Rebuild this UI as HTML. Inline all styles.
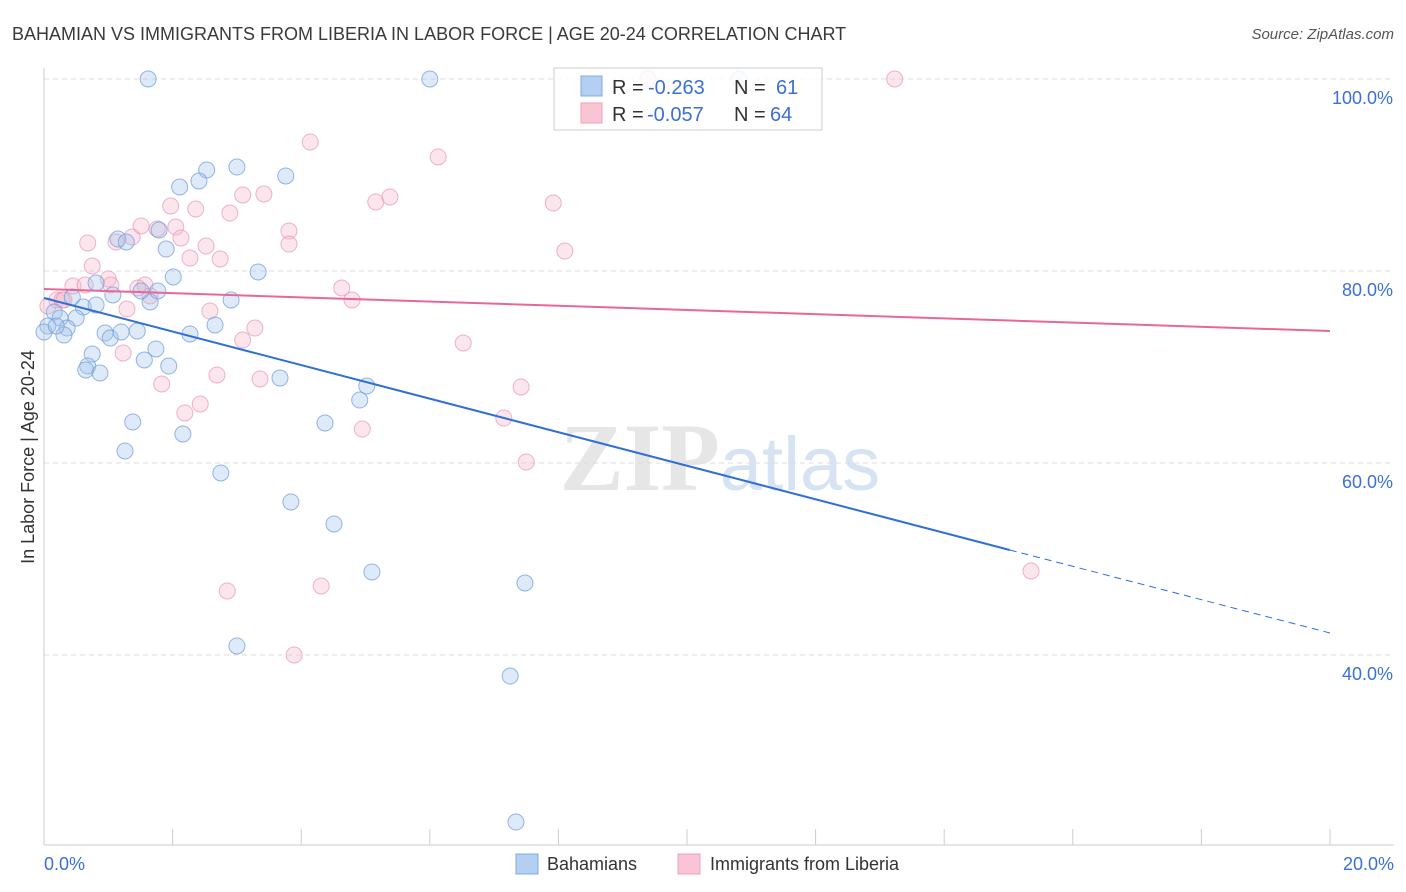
<!DOCTYPE html>
<html><head><meta charset="utf-8">
<style>
body{margin:0;background:#fff;font-family:"Liberation Sans",sans-serif;}
#wrap{position:relative;width:1406px;height:892px;overflow:hidden;}
</style></head>
<body>
<div id="wrap">
<svg id="svg" width="1406" height="892" xmlns="http://www.w3.org/2000/svg">
<text x="12" y="40" font-size="18" fill="#3a3a3a">BAHAMIAN VS IMMIGRANTS FROM LIBERIA IN LABOR FORCE | AGE 20-24 CORRELATION CHART</text>
<text x="1394" y="39" font-size="15" fill="#555" text-anchor="end" font-style="italic">Source: ZipAtlas.com</text>
<text x="720" y="490" font-size="96" fill="#e6e6e6" text-anchor="middle" font-weight="bold" font-family="Liberation Serif,serif">ZIP<tspan fill="#d6e3f3" font-family="Liberation Sans,sans-serif" font-weight="normal" font-size="76">atlas</tspan></text>
<text transform="translate(34,457) rotate(-90)" font-size="18" fill="#333" text-anchor="middle">In Labor Force | Age 20-24</text>
<g id="grid"></g><g id="pts"></g><g id="lines"></g>
<g>
<rect x="554" y="68" width="268" height="62" fill="#fff" fill-opacity="0.85" stroke="#ccc"/>
<rect x="581" y="76" width="21" height="20" fill="#b5cff2" stroke="#7fa8e2"/>
<rect x="581" y="103" width="21" height="20" fill="#f9c5d5" stroke="#eda2ba"/>
<g font-size="20">
<text x="612" y="94" fill="#333">R =</text><text x="648" y="94" fill="#3b6fd6">-0.263</text>
<text x="734" y="94" fill="#333">N =</text><text x="776" y="94" fill="#3b6fd6">61</text>
</g>
<g font-size="20">
<text x="612" y="121" fill="#333">R =</text><text x="647" y="121" fill="#3b6fd6">-0.057</text>
<text x="734" y="121" fill="#333">N =</text><text x="770" y="121" fill="#3b6fd6">64</text>
</g>
</g>
<g>
<rect x="516" y="854" width="22" height="20" fill="#b5cff2" stroke="#7fa8e2"/>
<text x="547" y="870" font-size="18" fill="#333">Bahamians</text>
<rect x="678" y="854" width="22" height="20" fill="#f9c5d5" stroke="#eda2ba"/>
<text x="710" y="870" font-size="18" fill="#333">Immigrants from Liberia</text>
</g>
</svg>
</div>
<script>
const blueX=[1.62,6.00,10.81,3.00,2.53,2.41,2.11,3.76,1.15,1.28,1.79,1.90,2.01,3.33,2.91,1.65,1.51,1.77,1.07,0.81,0.44,0.61,0.81,0.16,0.25,0.50,0.06,0.36,0.31,0.95,1.03,1.20,1.45,2.27,2.66,1.74,0.75,1.56,1.94,0.68,0.65,0.87,3.67,5.02,4.91,1.38,4.37,2.16,1.26,2.75,3.84,4.51,5.10,7.48,3.00,7.25,7.34,0.0,0.19];
const blueY=[100,100,100,90.83,90.52,89.38,88.75,89.90,83.33,83.02,84.27,82.29,79.38,79.90,76.98,76.77,77.92,77.92,77.50,78.75,77.29,76.25,76.46,75.73,75.10,75.10,74.27,74.06,73.33,73.54,73.02,73.65,73.75,73.44,74.38,71.88,71.35,70.73,70.10,70.10,69.69,69.38,68.85,68.02,66.56,64.27,64.17,63.02,61.25,58.96,55.94,53.65,48.65,47.50,40.94,37.81,22.60,73.65,74.27];
const pinkX=[9.39,13.23,4.14,6.13,3.42,3.09,5.16,5.38,7.92,2.89,2.36,1.97,1.51,2.05,1.76,1.37,1.12,0.68,2.13,3.81,3.81,8.10,2.52,2.27,2.74,0.75,0.45,0.64,1.00,1.04,1.57,1.46,1.65,4.63,4.79,0.20,0.28,0.06,2.58,1.29,3.28,3.09,6.52,1.23,1.83,2.69,3.36,7.42,2.43,2.19,7.15,4.95,7.50,15.35,4.31,2.85,3.89,0.31];
const pinkY=[100,100,93.44,91.88,88.02,87.92,87.19,87.71,87.08,86.04,86.46,86.77,84.69,84.58,84.38,83.54,83.02,82.92,83.44,84.17,82.81,82.08,82.60,81.35,81.25,80.52,78.44,78.54,79.17,78.54,78.54,78.23,77.40,78.23,76.98,76.98,76.98,76.35,75.83,76.04,74.06,72.81,72.50,71.46,68.23,69.17,68.75,67.92,66.15,65.21,64.69,63.54,60.10,48.75,47.19,46.67,40.00,76.98];
const blueTrendX=[0,15.02,20];
const blueTrendY=[77.19,50.94,42.29];
const pinkTrendX=[0,20];
const pinkTrendY=[78.13,73.75];
const yTicks=[100,80,60,40];
const xTickLabels=["0.0%","20.0%"];

const NS="http://www.w3.org/2000/svg";
const X=v=>44+v*(1286/20);
const Y=v=>79+(100-v)*9.6;
function mk(tag,attrs,parent){const e=document.createElementNS(NS,tag);for(const k in attrs)e.setAttribute(k,attrs[k]);parent.appendChild(e);return e;}
const grid=document.getElementById('grid'),pts=document.getElementById('pts'),lines=document.getElementById('lines');
yTicks.forEach(t=>{
 const l=mk('line',{x1:44,x2:1394,y1:Y(t),y2:Y(t),stroke:'#ddd','stroke-dasharray':'5,4'},grid);
 
 
 const tx=mk('text',{x:1393,y:Y(t)+25,'font-size':18,fill:'#3b6fd6','text-anchor':'end'},grid);
 tx.textContent=t.toFixed(1)+'%';
 
 
});
const ax=mk('line',{x1:44,x2:44,y1:68,y2:845,stroke:'#ccc'},grid);


const bx=mk('line',{x1:44,x2:1394,y1:845,y2:845,stroke:'#ccc'},grid);


for(let i=0;i<=10;i++){
 const t=mk('line',{x1:X(i*2),x2:X(i*2),y1:829,y2:845,stroke:'#ccc'},grid);
 
 
}
const xl0=mk('text',{x:44,y:870,'font-size':18,fill:'#3b6fd6'},grid);xl0.textContent=xTickLabels[0];


const xl1=mk('text',{x:1394,y:870,'font-size':18,fill:'#3b6fd6','text-anchor':'end'},grid);xl1.textContent=xTickLabels[1];



pinkX.forEach((v,i)=>{
 const c=mk('circle',{cx:X(v),cy:Y(pinkY[i]),r:8,fill:'#f5b8cb','fill-opacity':0.35,stroke:'#ea93b0','stroke-opacity':0.7,'stroke-width':1},pts);
 
 
});
blueX.forEach((v,i)=>{
 const c=mk('circle',{cx:X(v),cy:Y(blueY[i]),r:8,fill:'#a4c4ec','fill-opacity':0.35,stroke:'#6f9fdd','stroke-opacity':0.75,'stroke-width':1},pts);
 
 
});
const b1=mk('line',{x1:X(blueTrendX[0]),y1:Y(blueTrendY[0]),x2:X(blueTrendX[1]),y2:Y(blueTrendY[1]),stroke:'#2f6fd6','stroke-width':2},lines);


const b2=mk('line',{x1:X(blueTrendX[1]),y1:Y(blueTrendY[1]),x2:X(blueTrendX[2]),y2:Y(blueTrendY[2]),stroke:'#2f6fd6','stroke-width':1,'stroke-dasharray':'7,5'},lines);


const p1=mk('line',{x1:X(pinkTrendX[0]),y1:Y(pinkTrendY[0]),x2:X(pinkTrendX[1]),y2:Y(pinkTrendY[1]),stroke:'#e8679a','stroke-width':2},lines);


</script>
</body></html>
